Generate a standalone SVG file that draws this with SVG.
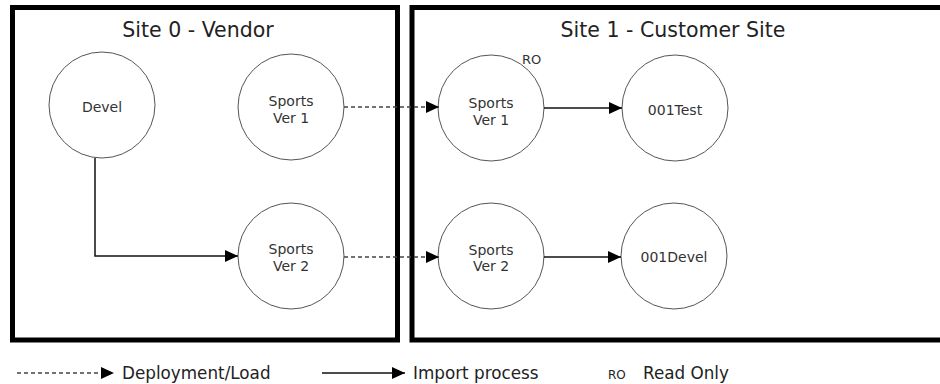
<svg xmlns="http://www.w3.org/2000/svg" width="940" height="384" viewBox="0 0 940 384">
<style>
.site{fill:#fff;stroke:#000;stroke-width:5}
.title{font-family:"DejaVu Sans",Verdana,sans-serif;font-size:20.5px;fill:#222;text-anchor:middle}
.node circle{fill:#fff;stroke:#555;stroke-width:1}
.node text{font-family:"DejaVu Sans",Verdana,sans-serif;font-size:14px;fill:#333;text-anchor:middle}
.conn{fill:none;stroke:#111;stroke-width:1.5}
.dash{stroke:#444;stroke-dasharray:4 3}
.leg{font-family:"DejaVu Sans",Verdana,sans-serif;font-size:16.8px;fill:#222}
.ro{font-family:"DejaVu Sans",Verdana,sans-serif;font-size:13px;fill:#222}
</style>
<defs>
<marker id="ah" markerUnits="userSpaceOnUse" markerWidth="13" markerHeight="12" refX="13" refY="6" orient="auto">
<path d="M0,0 L13,6 L0,12 z" fill="#000"/>
</marker>
</defs>
<rect width="940" height="384" fill="#fff"/>
<g id="site0">
<rect class="site" x="12.5" y="7.5" width="385" height="332.5"/>
<text class="title" x="198" y="37">Site 0 - Vendor</text>
</g>
<g id="site1">
<rect class="site" x="412" y="7.5" width="540" height="332.5"/>
<text class="title" x="673" y="37">Site 1 - Customer Site</text>
</g>
<g id="n-devel" class="node">
<circle cx="102" cy="105" r="53"/>
<text x="102" y="112">Devel</text>
</g>
<g id="n-s0v1" class="node">
<circle cx="291" cy="107" r="53"/>
<text x="291" y="106">Sports</text>
<text x="291" y="123">Ver 1</text>
</g>
<g id="n-s0v2" class="node">
<circle cx="291" cy="256" r="53"/>
<text x="291" y="254">Sports</text>
<text x="291" y="271">Ver 2</text>
</g>
<g id="n-s1v1" class="node">
<circle cx="491" cy="108" r="53"/>
<text x="491" y="108">Sports</text>
<text x="491" y="125">Ver 1</text>
<text class="ro" x="522" y="64" style="text-anchor:start;font-size:13px">RO</text>
</g>
<g id="n-001test" class="node">
<circle cx="675" cy="108" r="53"/>
<text x="675" y="115">001Test</text>
</g>
<g id="n-s1v2" class="node">
<circle cx="491" cy="256" r="53"/>
<text x="491" y="255">Sports</text>
<text x="491" y="271">Ver 2</text>
</g>
<g id="n-001devel" class="node">
<circle cx="674" cy="256" r="53"/>
<text x="674" y="262">001Devel</text>
</g>
<g id="connectors">
<polyline class="conn" points="95,158 95,256 238,256" marker-end="url(#ah)"/>
<line class="conn dash" x1="344" y1="107" x2="439" y2="107" marker-end="url(#ah)"/>
<line class="conn" x1="544" y1="108" x2="622" y2="108" marker-end="url(#ah)"/>
<line class="conn dash" x1="344" y1="257" x2="439" y2="257" marker-end="url(#ah)"/>
<line class="conn" x1="544" y1="257" x2="621" y2="257" marker-end="url(#ah)"/>
</g>
<g id="legend">
<line class="conn dash" x1="17" y1="373" x2="114" y2="373" marker-end="url(#ah)"/>
<text class="leg" x="122" y="379">Deployment/Load</text>
<line class="conn" x1="322" y1="373" x2="405" y2="373" marker-end="url(#ah)"/>
<text class="leg" x="413" y="379">Import process</text>
<text class="ro" x="608" y="379" style="font-size:12px">RO</text>
<text class="leg" x="643" y="379">Read Only</text>
</g>
</svg>
